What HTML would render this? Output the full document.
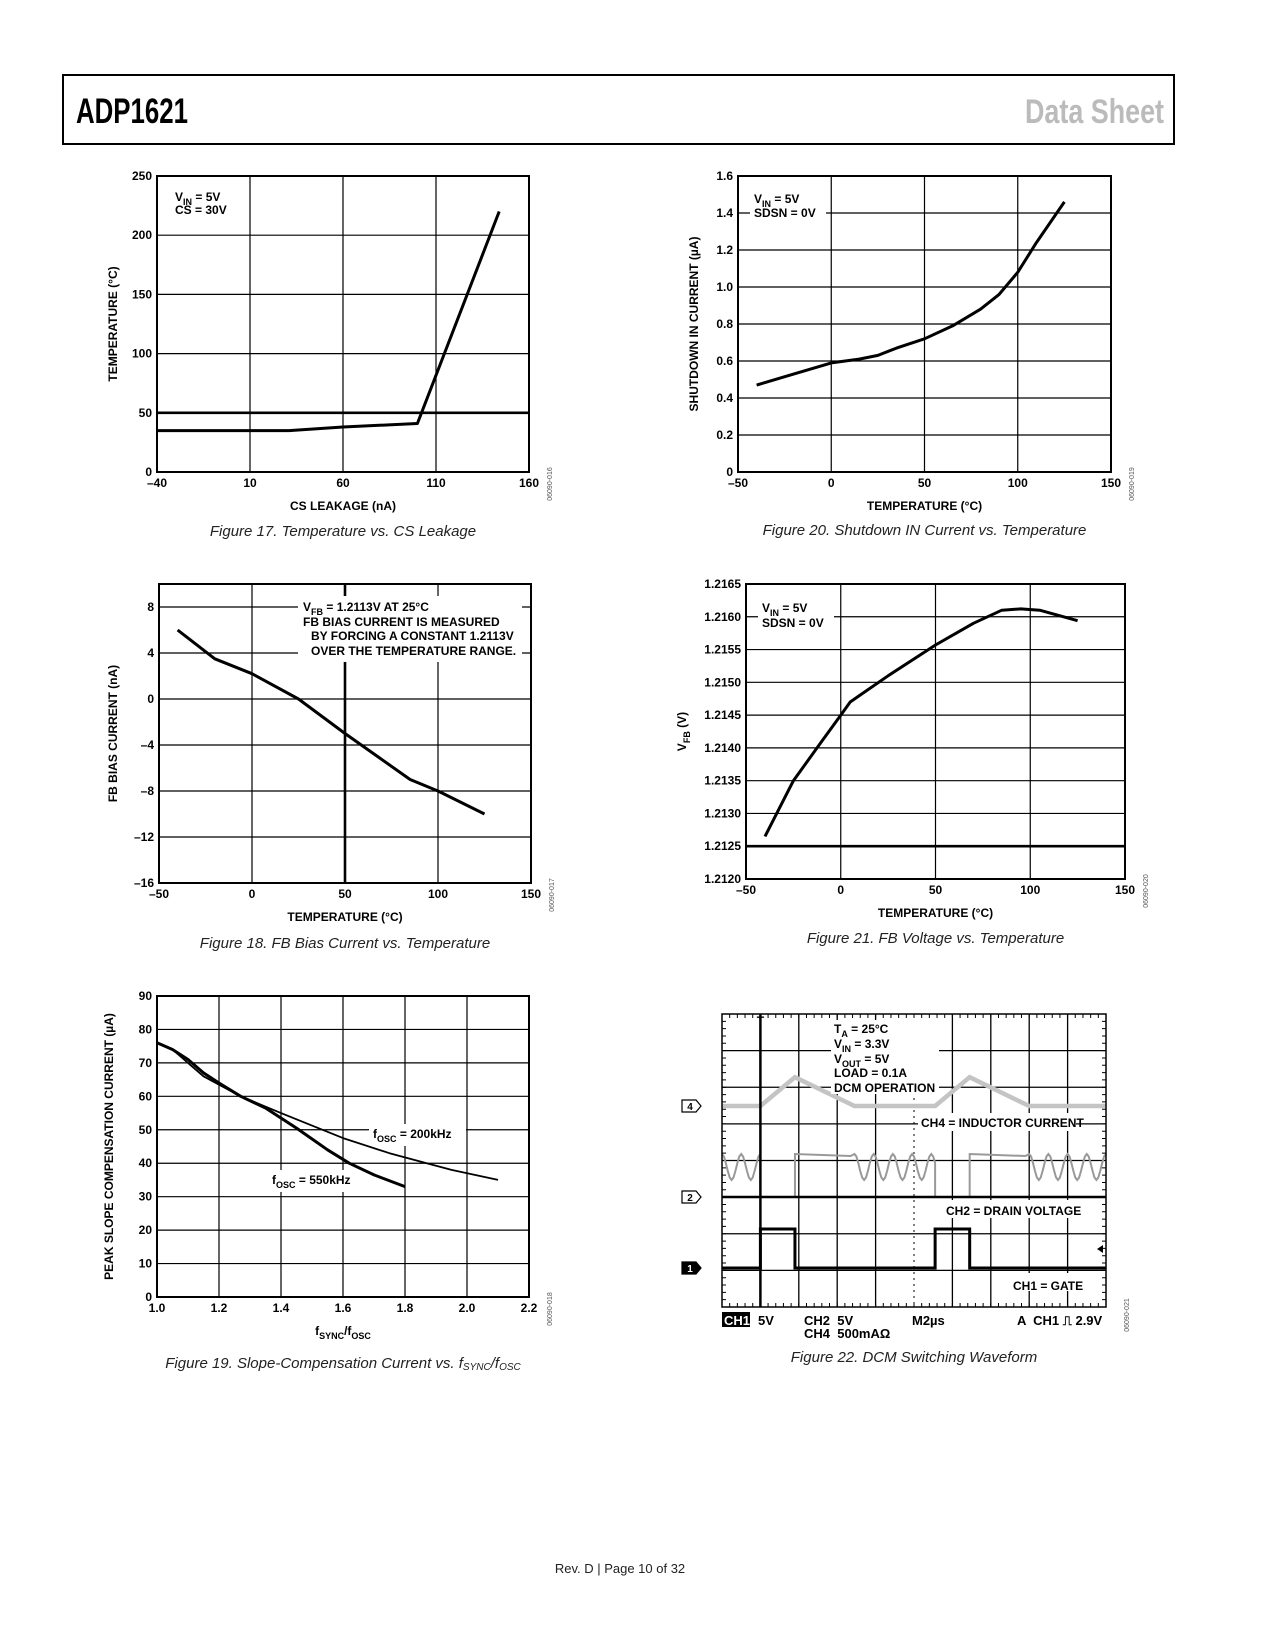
<!DOCTYPE html>
<html><head><meta charset="utf-8"><style>
html,body{margin:0;padding:0;background:#fff}
svg{display:block}
text{font-family:"Liberation Sans",sans-serif}
.t{font-weight:bold;font-size:12px;fill:#000}
.cap{font-style:italic;font-size:15px;fill:#222}
</style></head><body>
<svg id="page" width="1275" height="1650" viewBox="0 0 1275 1650" xmlns="http://www.w3.org/2000/svg">
<rect x="63" y="75" width="1111" height="69" fill="#fff" stroke="#000" stroke-width="2"/>
<text x="76" y="123" textLength="112" lengthAdjust="spacingAndGlyphs" style='font-family:"Liberation Sans Narrow","Liberation Sans",sans-serif;font-weight:bold;font-size:35px' fill="#000">ADP1621</text>
<text x="1025" y="123" textLength="139" lengthAdjust="spacingAndGlyphs" style='font-family:"Liberation Sans Narrow","Liberation Sans",sans-serif;font-weight:bold;font-size:34px' fill="#bbb">Data Sheet</text>
<text x="620" y="1573" text-anchor="middle" font-size="13" fill="#222">Rev. D | Page 10 of 32</text>
<g id="charts"></g>
</svg>
<script>
// ---- Figure 17 data ----
const f17x=[-40,31,60,100,144];
const f17y=[35,35,38,41,220];
const f17xt=[-40,10,60,110,160];
const f17yt=[0,50,100,150,200,250];
// ---- Figure 20 data ----
const f20x=[-40,-20,0,15,25,35,50,65,80,90,100,110,125];
const f20y=[0.47,0.53,0.59,0.61,0.63,0.67,0.72,0.79,0.88,0.96,1.08,1.24,1.46];
const f20xt=[-50,0,50,100,150];
const f20yt=[0,0.2,0.4,0.6,0.8,1.0,1.2,1.4,1.6];
// ---- Figure 18 data ----
const f18x=[-40,-20,0,25,50,85,100,125];
const f18y=[6,3.5,2.2,0,-3,-7,-8,-10];
const f18xt=[-50,0,50,100,150];
const f18yt=[-16,-12,-8,-4,0,4,8];
// ---- Figure 21 data ----
const f21x=[-40,-25,-10,0,5,10,25,50,70,85,95,105,125];
const f21y=[1.21265,1.2135,1.2141,1.2145,1.2147,1.2148,1.2151,1.21557,1.2159,1.2161,1.21612,1.2161,1.21594];
const f21xt=[-50,0,50,100,150];
const f21yt=[1.2120,1.2125,1.2130,1.2135,1.2140,1.2145,1.2150,1.2155,1.2160,1.2165];
// ---- Figure 19 data ----
const f19x550=[1.0,1.05,1.1,1.15,1.2,1.27,1.35,1.45,1.55,1.62,1.7,1.8];
const f19y550=[76,74,71,67,64,60,56.5,50.5,44,40,36.5,33];
const f19x200=[1.0,1.05,1.1,1.15,1.27,1.4,1.6,1.75,1.87,1.95,2.1];
const f19y200=[76,74,70,66,60,55,47.5,43,40,38,35];
const f19xt=[1.0,1.2,1.4,1.6,1.8,2.0,2.2];
const f19yt=[0,10,20,30,40,50,60,70,80,90];
// ---- Figure 22 scope data (time in µs, 2µs/div) ----
const gateOn=[[2.0,3.8],[11.1,12.9]];
const drainHighEnd=[6.9,16.0];
const ringStart=[0,6.9,16.0];
const ringEnd=[2.0,11.1,20];
const indPeak=[0.8,0.8];

const NS="http://www.w3.org/2000/svg";
const root=document.getElementById('charts');
function el(tag,attrs,parent){const e=document.createElementNS(NS,tag);for(const k in attrs)e.setAttribute(k,attrs[k]);(parent||root).appendChild(e);return e;}
function txt(s,x,y,cls,anchor,parent){const t=el('text',{x:x,y:y,class:cls||'t','text-anchor':anchor||'start'},parent);t.textContent=s;return t;}

function chart(o){
  const g=el('g',{});
  
  
  const sx=v=>o.x0+(v-o.xmin)/(o.xmax-o.xmin)*(o.x1-o.x0);
  const sy=v=>o.y1-(v-o.ymin)/(o.ymax-o.ymin)*(o.y1-o.y0);
  o.xt.forEach(v=>{
    const gl=el('line',{x1:sx(v),x2:sx(v),y1:o.y0,y2:o.y1,stroke:'#000','stroke-width':(o.thickX===v?2.6:1.2)},g);
    
    
    const t=txt(o.xfmt?o.xfmt(v):String(v).replace('-','\u2013'),sx(v),o.y1+15,'t','middle',g);
    
    
  });
  o.yt.forEach(v=>{
    const gl=el('line',{x1:o.x0,x2:o.x1,y1:sy(v),y2:sy(v),stroke:'#000','stroke-width':(o.thickY===v?2.6:1.2)},g);
    
    
    const t=txt(o.yfmt?o.yfmt(v):String(v).replace('-','\u2013'),o.x0-5,sy(v)+4,'t','end',g);
    
    
  });
  const fr=el('rect',{x:o.x0,y:o.y0,width:o.x1-o.x0,height:o.y1-o.y0,fill:'none',stroke:'#000','stroke-width':2},g);
  
  
  (o.boxes||[]).forEach(b=>{const r=el('rect',{x:b[0],y:b[1],width:b[2],height:b[3],fill:'#fff'},g);
    
    });
  o.series.forEach(s=>{
    const d=s.xs.map((v,i)=>(i?'L':'M')+sx(v).toFixed(1)+','+sy(s.ys[i]).toFixed(1)).join('');
    const p=el('path',{d:d,fill:'none',stroke:'#000','stroke-width':s.w||3,'stroke-linejoin':'round'},g);
    
    
  });
  (o.notes||[]).forEach(n=>{const t=el('text',{x:n[0],y:n[1],class:'t'},g);t.innerHTML=n[2];
    
    });
  const xt=txt('',(o.x0+o.x1)/2,o.y1+38,'t','middle',g);xt.innerHTML=o.xtitle;
  
  
  const cy=(o.y0+o.y1)/2, tx=o.ytx;
  const yt=el('text',{x:tx,y:cy,class:'t','text-anchor':'middle',transform:`rotate(-90 ${tx} ${cy})`},g);yt.innerHTML=o.ytitle;
  
  
  const cx=o.x1+23, cyy=o.y1+12;
  const code=el('text',{x:cx,y:cyy,'font-size':7,fill:'#555','text-anchor':'middle',transform:`rotate(-90 ${cx} ${cyy})`},g);code.textContent=o.code;
  
  
  const cap=el('text',{x:(o.x0+o.x1)/2,y:o.capy,class:'cap','text-anchor':'middle'},g);cap.innerHTML=o.cap;
  
  
}
const sub=(s)=>`<tspan dy="4" font-size="9">${s}</tspan><tspan dy="-4">\u200b</tspan>`;

chart({name:'figure-17-chart',x0:157,x1:529,y0:176,y1:472,xmin:-40,xmax:160,ymin:0,ymax:250,xt:f17xt,yt:f17yt,thickY:50,
  series:[{name:'temperature-line',xs:f17x,ys:f17y}],
  notes:[[175,201,'V'+sub('IN')+' = 5V'],[175,214,'CS = 30V']],
  xtitle:'CS LEAKAGE (nA)',ytitle:'TEMPERATURE (°C)',ytx:117,code:'06090-016',capy:536,cap:'Figure 17. Temperature vs. CS Leakage'});

chart({name:'figure-20-chart',x0:738,x1:1111,y0:176,y1:472,xmin:-50,xmax:150,ymin:0,ymax:1.6,xt:f20xt,yt:f20yt,
  yfmt:v=>v===0?'0':v.toFixed(1),
  boxes:[[750,188,76,32]],
  series:[{name:'shutdown-current-line',xs:f20x,ys:f20y}],
  notes:[[754,203,'V'+sub('IN')+' = 5V'],[754,217,'SDSN = 0V']],
  xtitle:'TEMPERATURE (°C)',ytitle:'SHUTDOWN IN CURRENT (µA)',ytx:698,code:'06090-019',capy:535,cap:'Figure 20. Shutdown IN Current vs. Temperature'});

chart({name:'figure-18-chart',x0:159,x1:531,y0:584,y1:883,xmin:-50,xmax:150,ymin:-16,ymax:10,xt:f18xt,yt:f18yt,thickX:50,
  boxes:[[298,596,224,66]],
  series:[{name:'fb-bias-line',xs:f18x,ys:f18y}],
  notes:[[303,611,'V'+sub('FB')+' = 1.2113V AT 25°C'],[303,626,'FB BIAS CURRENT IS MEASURED'],[311,640,'BY FORCING A CONSTANT 1.2113V'],[311,655,'OVER THE TEMPERATURE RANGE.']],
  xtitle:'TEMPERATURE (°C)',ytitle:'FB BIAS CURRENT (nA)',ytx:117,code:'06090-017',capy:948,cap:'Figure 18. FB Bias Current vs. Temperature'});

chart({name:'figure-21-chart',x0:746,x1:1125,y0:584,y1:879,xmin:-50,xmax:150,ymin:1.2120,ymax:1.2165,xt:f21xt,yt:f21yt,thickY:1.2125,
  yfmt:v=>v.toFixed(4),
  boxes:[[758,598,76,32]],
  series:[{name:'fb-voltage-line',xs:f21x,ys:f21y}],
  notes:[[762,612,'V'+sub('IN')+' = 5V'],[762,627,'SDSN = 0V']],
  xtitle:'TEMPERATURE (°C)',ytitle:'V'+sub('FB')+' (V)',ytx:686,code:'06090-020',capy:943,cap:'Figure 21. FB Voltage vs. Temperature'});

chart({name:'figure-19-chart',x0:157,x1:529,y0:996,y1:1297,xmin:1.0,xmax:2.2,ymin:0,ymax:90,xt:f19xt,yt:f19yt,
  xfmt:v=>v.toFixed(1),
  boxes:[[369,1124,97,22],[268,1170,97,22]],
  series:[{name:'series-200khz',xs:f19x200,ys:f19y200,w:1.8},{name:'series-550khz',xs:f19x550,ys:f19y550,w:3}],
  notes:[[373,1138,'f'+sub('OSC')+' = 200kHz'],[272,1184,'f'+sub('OSC')+' = 550kHz']],
  xtitle:'f'+sub('SYNC')+'/f'+sub('OSC'),ytitle:'PEAK SLOPE COMPENSATION CURRENT (µA)',ytx:113,code:'06090-018',capy:1368,cap:'Figure 19. Slope-Compensation Current vs. f<tspan font-size="10" dy="2">SYNC</tspan><tspan dy="-2">/f</tspan><tspan font-size="10" dy="2">OSC</tspan>'});

// ---- Scope (Figure 22) ----
(function(){
  const X0=722,X1=1106,Y0=1014,Y1=1307;
  const g=el('g',{});
  
  
  const st=t=>X0+t/20*(X1-X0);
  const dx=(X1-X0)/10, dy=(Y1-Y0)/8;
  for(let i=1;i<10;i++){const l=el('line',{x1:X0+i*dx,x2:X0+i*dx,y1:Y0,y2:Y1,stroke:'#000','stroke-width':i===5?1:1.3,'stroke-dasharray':i===5?'2,4':'none'},g);
    }
  for(let j=1;j<8;j++){const l=el('line',{x1:X0,x2:X1,y1:Y0+j*dy,y2:Y0+j*dy,stroke:'#000','stroke-width':1.3},g);
    }
  let tk='';
  for(let i=0;i<=50;i++){const x=X0+i*dx/5;tk+=`M${x},${Y0}v4M${x},${Y1}v-4`;}
  for(let j=0;j<=40;j++){const y=Y0+j*dy/5;tk+=`M${X0},${y}h4M${X1},${y}h-4`;}
  const tkp=el('path',{d:tk,stroke:'#000','stroke-width':1},g);
  
  const yCh4=1106,yCh2=1197,yCh1=1268;
  let d4='M'+X0+','+yCh4;
  gateOn.forEach((p,k)=>{d4+=`L${st(p[0])},${yCh4}L${st(p[1])},${yCh4-indPeak[k]*36}L${st(p[1]+3.1)},${yCh4}`;});
  d4+=`L${X1},${yCh4}`;
  const p4=el('path',{d:d4,fill:'none',stroke:'#c4c4c4','stroke-width':4.5},g);
  
  const hi=1154, rlo=1180;
  let d2='';
  ringStart.forEach((s,k)=>{
    const e=ringEnd[k];
    for(let t=s;t<=e+0.001;t+=0.1){const y=(hi+rlo)/2-((rlo-hi)/2)*Math.cos((t-s)/1.0*2*Math.PI);d2+=(d2?'L':'M')+st(t).toFixed(1)+','+y.toFixed(1);}
    if(k<gateOn.length){const p=gateOn[k];d2+=`L${st(p[0])},${yCh2}L${st(p[1])},${yCh2}L${st(p[1])},${hi}L${st(drainHighEnd[k]-0.2)},${hi+2}`;}
  });
  const p2=el('path',{d:d2,fill:'none',stroke:'#999','stroke-width':2},g);
  
  const gh=1229;
  let d1='M'+X0+','+yCh1;
  gateOn.forEach(p=>{d1+=`L${st(p[0])},${yCh1}L${st(p[0])},${gh}L${st(p[1])},${gh}L${st(p[1])},${yCh1}`;});
  d1+=`L${X1},${yCh1}`;
  const p1=el('path',{d:d1,fill:'none',stroke:'#000','stroke-width':3},g);
  
  const th=el('line',{x1:st(gateOn[0][0]),x2:st(gateOn[0][0]),y1:Y0,y2:Y1,stroke:'#000','stroke-width':2.5},g);
  
  const hl=el('line',{x1:X0,x2:X1,y1:yCh2,y2:yCh2,stroke:'#000','stroke-width':2.5},g);
  
  const fr=el('rect',{x:X0,y:Y0,width:X1-X0,height:Y1-Y0,fill:'none',stroke:'#000','stroke-width':1.5},g);
  
  [[831,1020,108,74],[918,1113,158,18],[944,1200,132,18],[1010,1273,70,18]].forEach(b=>{
    const r=el('rect',{x:b[0],y:b[1],width:b[2],height:b[3],fill:'#fff'},g);
    });
  [[834,1033,'T'+sub('A')+' = 25°C'],[834,1048,'V'+sub('IN')+' = 3.3V'],[834,1063,'V'+sub('OUT')+' = 5V'],[834,1077,'LOAD = 0.1A'],[834,1092,'DCM OPERATION'],
   [921,1127,'CH4 = INDUCTOR CURRENT'],[946,1215,'CH2 = DRAIN VOLTAGE'],[1013,1290,'CH1 = GATE']].forEach(n=>{
    const t=el('text',{x:n[0],y:n[1],class:'t','font-size':13},g);t.innerHTML=n[2];
    });
  [[yCh4,'4',false],[yCh2,'2',false],[yCh1,'1',true]].forEach(m=>{
    const p=el('path',{d:`M${X0-40},${m[0]-6}h14l5,6l-5,6h-14z`,fill:m[2]?'#000':'#fff',stroke:'#000','stroke-width':1.2},g);
    
    const t=el('text',{x:X0-32,y:m[0]+4,'text-anchor':'middle',style:`font-weight:bold;font-size:10px;fill:${m[2]?'#fff':'#000'}`},g);t.textContent=m[1];
    
  });
  const trg=el('text',{x:st(gateOn[0][0]),y:Y0+11,class:'t','text-anchor':'middle','font-size':12},g);trg.textContent='T';
  
  const ar=el('path',{d:`M${X1-9},${1249}l6,-4v8z`,fill:'#000'},g);
  
  const ch1b=el('rect',{x:722,y:1312,width:28,height:15,fill:'#000'},g);
  
  [[724,1325,'CH1','#fff'],[758,1325,'5V','#000'],[804,1325,'CH2  5V','#000'],[804,1338,'CH4  500mAΩ','#000'],[912,1325,'M2µs','#000'],[1017,1325,'A  CH1 ⎍ 2.9V','#000']].forEach(n=>{
    const t=el('text',{x:n[0],y:n[1],'xml:space':'preserve',style:`font-weight:bold;font-size:13px;fill:${n[3]};white-space:pre`},g);t.textContent=n[2];
    });
  const code=el('text',{x:1129,y:1315,'font-size':7,fill:'#555','text-anchor':'middle',transform:'rotate(-90 1129 1315)'},g);code.textContent='06090-021';
  
  const cap=el('text',{x:914,y:1362,class:'cap','text-anchor':'middle'},g);cap.textContent='Figure 22. DCM Switching Waveform';
  
})();
</script>
</body></html>
